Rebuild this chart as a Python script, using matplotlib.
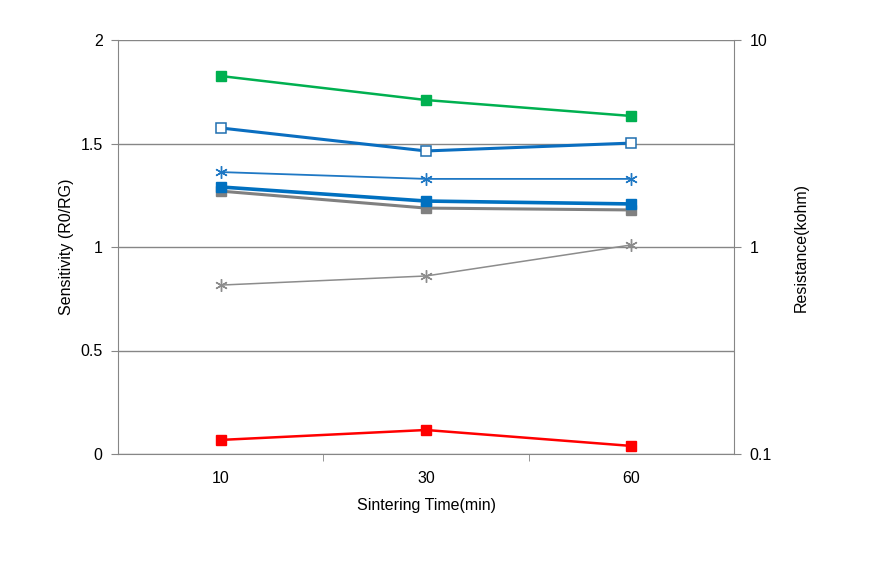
import matplotlib
matplotlib.use("Agg")
import matplotlib.pyplot as plt
from matplotlib.ticker import FixedLocator, NullLocator, FixedFormatter

plt.rcParams['font.family'] = ['Liberation Sans', 'DejaVu Sans']

categories = ['10', '30', '60']
green_sq = [1.826, 1.710, 1.633]
blue_open = [1.575, 1.464, 1.502]
blue_star = [1.362, 1.329, 1.329]
blue_sq = [1.290, 1.222, 1.208]
gray_sq = [1.270, 1.188, 1.179]
gray_star = [0.816, 0.860, 1.010]
red_sq = [0.068, 0.116, 0.039]

fs = 11.5
fig = plt.figure(figsize=(8.71, 5.69), dpi=100)
ax = fig.add_axes([118/871, 1-454/569, (734-118)/871, (454-40)/569])
x = list(range(len(categories)))
gc = '#868686'

ax.plot(x, gray_sq, color='#808080', lw=2.2, marker='s', ms=7, mfc='#808080', mec='#808080', zorder=3)
ax.plot(x, blue_sq, color='#0070C0', lw=2.6, marker='s', ms=7.5, mfc='#0070C0', mec='#0070C0', zorder=4)
ax.plot(x, blue_star, color='#1F78C4', lw=1.3, marker=(6, 2, 0), ms=9, mec='#1F78C4', mew=1.0, zorder=4)
ax.plot(x, blue_open, color='#0A6EC0', lw=2.2, marker='s', ms=7.5, mfc='white', mec='#1F6FB0', mew=1.1, zorder=4)
ax.plot(x, green_sq, color='#00B050', lw=1.8, marker='s', ms=7.5, mfc='#00B050', mec='#00B050', zorder=4)
ax.plot(x, gray_star, color='#8C8C8C', lw=1.1, marker=(6, 2, 0), ms=9, mec='#8C8C8C', mew=1.0, zorder=3)
ax.plot(x, red_sq, color='#FF0000', lw=1.8, marker='s', ms=7.5, mfc='#FF0000', mec='#FF0000', zorder=4)

ax.set_xlim(-0.5, 2.5)
ax.set_ylim(0, 2)
ax.set_yticks([0, 0.5, 1, 1.5, 2])
ax.set_yticklabels(['0', '0.5', '1', '1.5', '2'])
ax.yaxis.grid(True, color=gc, lw=1)
ax.set_axisbelow(True)
ax.set_xticks(x)
ax.set_xticklabels(categories)
ax.xaxis.set_minor_locator(FixedLocator([0.5, 1.5]))
ax.tick_params(axis='x', which='major', length=0, pad=12, labelsize=fs)
ax.tick_params(axis='x', which='minor', length=5, color=gc, direction='out')
ax.tick_params(axis='y', length=5, color=gc, direction='out', labelsize=fs, pad=6)
for s in ['top', 'right']:
    ax.spines[s].set_visible(False)
ax.spines['left'].set_color(gc)
ax.spines['bottom'].set_color(gc)
ax.set_xlabel('Sintering Time(min)', fontsize=fs, labelpad=9)
ax.set_ylabel('Sensitivity (R0/RG)', fontsize=fs, labelpad=5)

ax2 = ax.twinx()
ax2.set_yscale('log')
ax2.set_ylim(0.1, 10)
ax2.yaxis.set_major_locator(FixedLocator([0.1, 1, 10]))
ax2.yaxis.set_major_formatter(FixedFormatter(['0.1', '1', '10']))
ax2.yaxis.set_minor_locator(NullLocator())
ax2.tick_params(axis='y', length=5, color=gc, direction='out', labelsize=fs, pad=6)
for s in ['top', 'left', 'bottom']:
    ax2.spines[s].set_visible(False)
ax2.spines['right'].set_color(gc)
ax2.set_ylabel('Resistance(kohm)', fontsize=fs, labelpad=16)

fig.savefig('out.png', dpi=100)
